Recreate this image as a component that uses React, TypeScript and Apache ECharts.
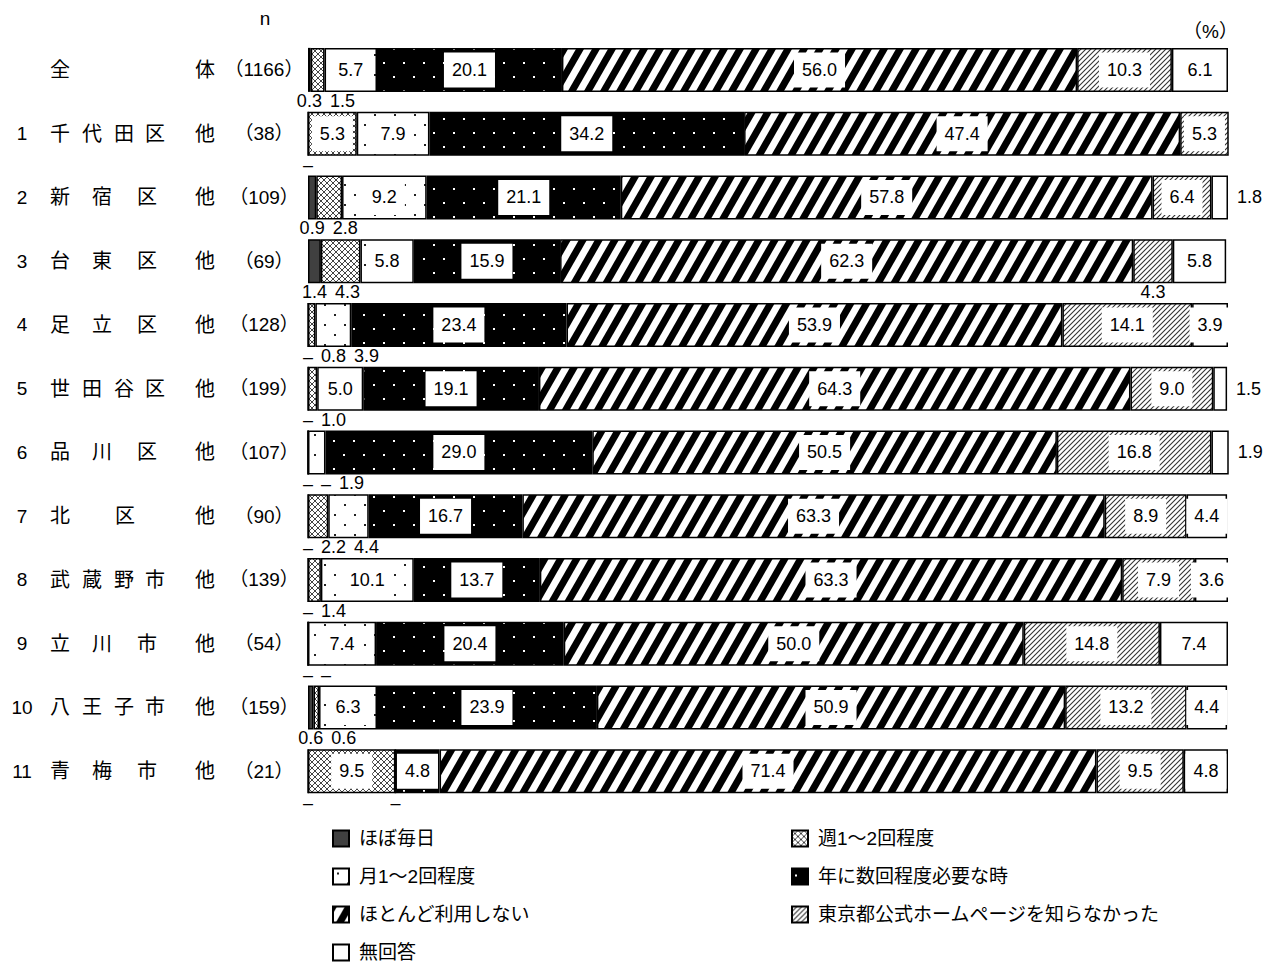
import React, { useEffect, useRef } from 'react';
import * as echarts from 'echarts';

// ---------- data ----------
const seriesNames = [
  'ほぼ毎日',
  '週1～2回程度',
  '月1～2回程度',
  '年に数回程度必要な時',
  'ほとんど利用しない',
  '東京都公式ホームページを知らなかった',
  '無回答',
];

const rowNumbers = ['', '1', '2', '3', '4', '5', '6', '7', '8', '9', '10', '11'];
const rowNames = ['全体', '千代田区', '新宿区', '台東区', '足立区', '世田谷区', '品川区', '北区', '武蔵野市', '立川市', '八王子市', '青梅市'];
const rowCounts = [1166, 38, 109, 69, 128, 199, 107, 90, 139, 54, 159, 21];

const daily = [0.3, 0, 0.9, 1.4, 0, 0, 0, 0, 0, 0, 0.6, 0];
const weekly = [1.5, 5.3, 2.8, 4.3, 0.8, 1.0, 0, 2.2, 1.4, 0, 0.6, 9.5];
const monthly = [5.7, 7.9, 9.2, 5.8, 3.9, 5.0, 1.9, 4.4, 10.1, 7.4, 6.3, 0];
const yearly = [20.1, 34.2, 21.1, 15.9, 23.4, 19.1, 29.0, 16.7, 13.7, 20.4, 23.9, 4.8];
const rarely = [56.0, 47.4, 57.8, 62.3, 53.9, 64.3, 50.5, 63.3, 63.3, 50.0, 50.9, 71.4];
const unaware = [10.3, 5.3, 6.4, 4.3, 14.1, 9.0, 16.8, 8.9, 7.9, 14.8, 13.2, 9.5];
const noAnswer = [6.1, 0, 1.8, 5.8, 3.9, 1.5, 1.9, 4.4, 3.6, 7.4, 4.4, 4.8];

// ---------- layout ----------
const FONT = "'Liberation Sans', 'Noto Sans CJK JP', sans-serif";
const W = 1264;
const H = 964;
const GRID_LEFT = 308;
const GRID_RIGHT = 36;
const GRID_TOP = 38;
const GRID_HEIGHT = 765;
const PLOT_W = W - GRID_LEFT - GRID_RIGHT;

function tile(w: number, h: number, draw: (g: CanvasRenderingContext2D) => void) {
  const c = document.createElement('canvas');
  c.width = w;
  c.height = h;
  const g = c.getContext('2d')!;
  draw(g);
  return { image: c.toDataURL(), repeat: 'repeat', imageWidth: w, imageHeight: h } as any;
}

function makePatterns() {
  const solidDark = '#404040';
  const cross = tile(6, 6, (g) => {
    g.fillStyle = '#fff';
    g.fillRect(0, 0, 6, 6);
    g.fillStyle = '#444';
    for (let i = 0; i < 6; i++) {
      g.fillRect(i, i, 1, 1);
      g.fillRect(5 - i, i, 1, 1);
    }
  });
  const blackDots = tile(20, 20, (g) => {
    g.fillStyle = '#fff';
    g.fillRect(0, 0, 20, 20);
    g.fillStyle = '#222';
    g.fillRect(4, 4, 2, 2);
    g.fillRect(14, 14, 2, 2);
  });
  const whiteDots = tile(20, 28, (g) => {
    g.fillStyle = '#000';
    g.fillRect(0, 0, 20, 28);
    g.fillStyle = '#fff';
    g.fillRect(3, 6, 2, 2);
    g.fillRect(13, 20, 2, 2);
  });
  const bigStripes = tile(16, 28, (g) => {
    g.fillStyle = '#fff';
    g.fillRect(0, 0, 16, 28);
    g.strokeStyle = '#000';
    g.lineWidth = 7;
    for (const k of [-1, 0, 1]) {
      g.beginPath();
      g.moveTo(k * 16 - 8, 42);
      g.lineTo(k * 16 + 24, -14);
      g.stroke();
    }
  });
  const thinStripes = tile(5, 5, (g) => {
    g.fillStyle = '#fff';
    g.fillRect(0, 0, 5, 5);
    g.strokeStyle = '#333';
    g.lineWidth = 1.1;
    for (const k of [-1, 0, 1]) {
      g.beginPath();
      g.moveTo(k * 5 - 5, 10);
      g.lineTo(k * 5 + 10, -5);
      g.stroke();
    }
  });
  return [solidDark, cross, blackDots, whiteDots, bigStripes, thinStripes, '#fff'];
}

function buildOption() {
  const seriesData = [daily, weekly, monthly, yearly, rarely, unaware, noAnswer];
  const patterns = makePatterns();
  const unit = PLOT_W / 100;

  const mc = document.createElement('canvas').getContext('2d')!;
  mc.font = `18px ${FONT}`;

  // per-item label configuration (small values outside the bar)
  const labelCfg: any[][] = seriesData.map(() => new Array(rowNames.length).fill(null));
  rowNames.forEach((_, r) => {
    let cum = 0;
    let cursor = -Infinity;
    seriesData.forEach((arr, s) => {
      const v = arr[r];
      const text = v === 0 ? '–' : v.toFixed(1);
      const centerPx = (cum + v / 2) * unit;
      cum += v;
      const isLast = s === seriesData.length - 1;
      if (isLast) {
        if (v < 3) {
          labelCfg[s][r] = {
            position: 'right', distance: 9, backgroundColor: 'transparent', padding: 0, formatter: text,
          };
        }
        return;
      }
      if (v >= 4.5) return;
      const w = mc.measureText(text).width;
      const c = Math.max(centerPx, cursor + 8 + w / 2);
      cursor = c + w / 2;
      labelCfg[s][r] = {
        position: 'bottom', distance: 0, offset: [c - centerPx, 0],
        backgroundColor: 'transparent', padding: 0, formatter: text,
      };
    });
  });

  // y axis rich labels
  const charCenters: Record<number, number[]> = {
    4: [60, 92, 124, 155],
    3: [60, 102, 147],
    2: [60, 125],
  };
  const spacerWidths = new Set<number>();
  const axisLabels = rowNames.map((name, r) => {
    const parts: string[] = [];
    let cursor = 8;
    const put = (style: string, text: string, center: number, width: number) => {
      const left = center - width / 2;
      const gap = Math.round(left - cursor);
      if (gap > 0) {
        parts.push(`{s${gap}| }`);
        spacerWidths.add(gap);
        cursor += gap;
      }
      parts.push(`{${style}|${text}}`);
      cursor += width;
    };
    if (rowNumbers[r]) put('num', rowNumbers[r], 22, 28);
    const chars = Array.from(name);
    if (r === 0) {
      put('ch', chars[0], 60, 22);
      put('ch', chars[1], 205, 22);
    } else {
      const centers = charCenters[chars.length];
      chars.forEach((ch, i) => put('ch', ch, centers[i], 22));
      put('ch', '他', 205, 22);
    }
    put('n', `（${rowCounts[r]}）`, 264, 72);
    return parts.join('');
  });
  const base = { fontFamily: FONT, color: '#000' };
  const rich: any = {
    num: { ...base, fontSize: 19, width: 28, align: 'center' },
    ch: { ...base, fontSize: 20, width: 22, align: 'center' },
    n: { ...base, fontSize: 19, width: 72, align: 'center' },
  };
  spacerWidths.forEach((w) => {
    rich[`s${w}`] = { ...base, fontSize: 19, width: w };
  });

  const series = seriesNames.map((name, s) => ({
    name,
    type: 'bar',
    stack: 'total',
    barWidth: 44,
    itemStyle: { color: patterns[s], borderColor: '#000', borderWidth: 1.5 },
    label: {
      show: true,
      position: 'inside',
      color: '#000',
      fontSize: 18,
      fontFamily: FONT,
      backgroundColor: '#fff',
      padding: [9, 8, 8, 8],
      textBorderWidth: 0,
      formatter: (p: any) => Number(p.value).toFixed(1),
    },
    emphasis: { disabled: true },
    data: seriesData[s].map((v, r) => (labelCfg[s][r] ? { value: v, label: labelCfg[s][r] } : { value: v })),
  }));

  const legendCommon = {
    orient: 'vertical',
    icon: 'rect',
    itemWidth: 16,
    itemHeight: 16,
    itemGap: 19,
    padding: 0,
    height: 180,
    selectedMode: false,
    textStyle: { fontSize: 19, fontFamily: FONT, color: '#000', padding: [0, 0, 0, 5] },
  };

  return {
    animation: false,
    backgroundColor: '#fff',
    grid: { left: GRID_LEFT, right: GRID_RIGHT, top: GRID_TOP, height: GRID_HEIGHT },
    xAxis: { type: 'value', min: 0, max: 100, show: false },
    yAxis: {
      type: 'category',
      data: rowNames,
      inverse: true,
      axisLine: { show: false },
      axisTick: { show: false },
      axisLabel: {
        interval: 0,
        align: 'left',
        margin: GRID_LEFT - 8,
        formatter: (_v: string, i: number) => axisLabels[i],
        rich,
      },
    },
    legend: [
      { ...legendCommon, left: 332, top: 829, data: [seriesNames[0], seriesNames[2], seriesNames[4], seriesNames[6]] },
      { ...legendCommon, left: 791, top: 829, data: [seriesNames[1], seriesNames[3], seriesNames[5]] },
    ],
    graphic: [
      { type: 'text', x: 265, y: 18, style: { text: 'n', fontSize: 19, fontFamily: FONT, fill: '#000', align: 'center', verticalAlign: 'middle' } },
      { type: 'text', x: 1238, y: 31, style: { text: '（%）', fontSize: 19, fontFamily: FONT, fill: '#000', align: 'right', verticalAlign: 'middle' } },
    ],
    series,
  };
}

export default function App() {
  const ref = useRef<HTMLDivElement>(null);
  useEffect(() => {
    const el = ref.current;
    if (!el) return;
    const chart = echarts.init(el, null, { renderer: 'svg' });
    chart.setOption(buildOption() as any);
    return () => chart.dispose();
  }, []);
  return (
    <div
      ref={ref}
      style={{ position: 'absolute', left: 0, top: 0, width: W, height: H, background: '#fff' }}
    />
  );
}
